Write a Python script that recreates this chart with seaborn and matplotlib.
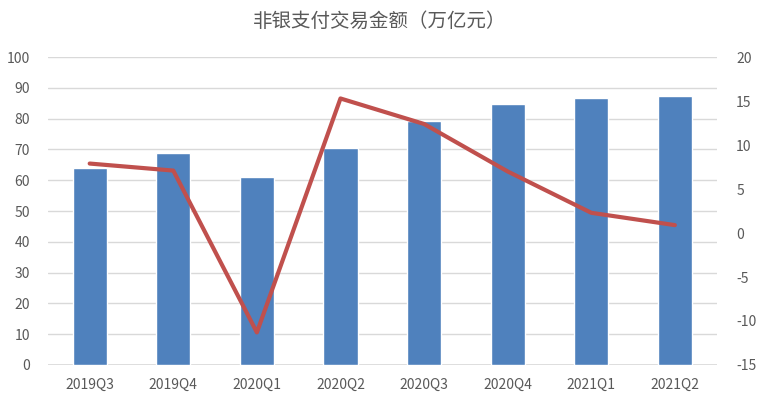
import numpy as np
import pandas as pd
import matplotlib
matplotlib.use('Agg')
import matplotlib.pyplot as plt
import seaborn as sns

# ── Data ─────────────────────────────────────────────────────
quarters = ['2019Q3', '2019Q4', '2020Q1', '2020Q2',
            '2020Q3', '2020Q4', '2021Q1', '2021Q2']
amount = [63.9, 68.8, 61.0, 70.4, 79.2, 84.7, 86.6, 87.3]   # 万亿元
growth = [7.9, 7.1, -11.3, 15.3, 12.4, 7.0, 2.3, 0.9]       # 同比 %

# ── Style ────────────────────────────────────────────────────
sns.set_theme(style="white")
plt.rcParams['font.family'] = ['Noto Sans CJK SC', 'DejaVu Sans']
plt.rcParams['axes.unicode_minus'] = False
grey = '#595959'

df = pd.DataFrame({'quarter': quarters, 'amount': amount, 'growth': growth})

fig = plt.figure(figsize=(7.6, 4.11), dpi=100)
ax = fig.add_axes([0.063, 0.112, 0.88, 0.749])

sns.barplot(data=df, x='quarter', y='amount', color='#4F81BD',
            saturation=1, width=0.41, ax=ax, zorder=2)
ax.set_ylim(0, 100)
ax.set_yticks(range(0, 101, 10))
ax.set_xlim(-0.5, len(quarters) - 0.5)
ax.yaxis.grid(True, color='#D9D9D9', linewidth=1, zorder=0)
ax.set_axisbelow(True)
ax.set_xlabel('')
ax.set_ylabel('')
for s in ax.spines.values():
    s.set_visible(False)
ax.axhline(0, color='#D9D9D9', linewidth=1.2, zorder=1)
ax.tick_params(axis='y', length=0, pad=13, labelsize=10, labelcolor=grey)
ax.tick_params(axis='x', length=0, pad=9, labelsize=10, labelcolor=grey)

ax2 = ax.twinx()
sns.lineplot(x=np.arange(len(quarters)), y=df['growth'], color='#C0504D',
             linewidth=3, ax=ax2, zorder=3)
ax2.set_ylim(-15, 20)
ax2.set_yticks(range(-15, 21, 5))
ax2.set_ylabel('')
for s in ax2.spines.values():
    s.set_visible(False)
ax2.tick_params(axis='y', length=0, pad=14, labelsize=10, labelcolor=grey)
ax2.set_xlim(-0.5, len(quarters) - 0.5)

fig.text(0.5, 0.948, '非银支付交易金额（万亿元）', ha='center', va='center',
         fontsize=14, color=grey)

plt.savefig('out.png', dpi=100)
